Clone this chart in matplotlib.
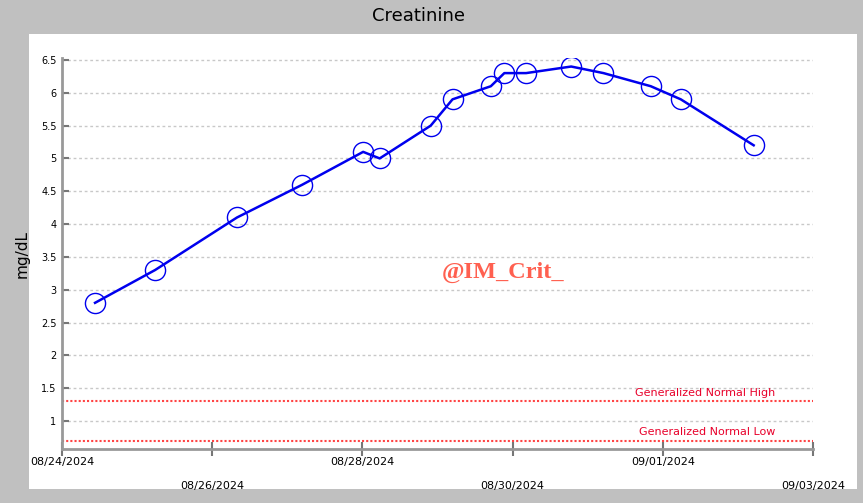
import matplotlib
matplotlib.use("Agg")
import matplotlib.pyplot as plt
import numpy as np

days = [0.44, 1.24, 2.33, 3.2, 4.01, 4.23, 4.91, 5.2, 5.71, 5.89, 6.18, 6.78, 7.21, 7.84, 8.24, 9.21]
values = [2.8, 3.3, 4.1, 4.6, 5.1, 5.0, 5.5, 5.9, 6.1, 6.3, 6.3, 6.4, 6.3, 6.1, 5.9, 5.2]
xtick_labels = ["08/24/2024", "08/26/2024", "08/28/2024", "08/30/2024", "09/01/2024", "09/03/2024"]
yticks = [1, 1.5, 2, 2.5, 3, 3.5, 4, 4.5, 5, 5.5, 6, 6.5]
normal_high = 1.3
normal_low = 0.7

W, H = 863, 503
fig = plt.figure(figsize=(W/100, H/100), dpi=100, facecolor="#c0c0c0")
bg = fig.add_axes([29/W, (H-489)/H, (857-29)/W, (489-34)/H], zorder=0)
bg.set_facecolor("white")
bg.set_xticks([]); bg.set_yticks([])
for s in bg.spines.values():
    s.set_visible(False)

ax = fig.add_axes([62/W, (H-449)/H, (813-62)/W, (449-58)/H], zorder=1)
ax.set_facecolor("none")
ax.set_xlim(0, 10)
ax.set_ylim(0.573, 6.53)

for s in ["top", "right"]:
    ax.spines[s].set_visible(False)
for s in ["left", "bottom"]:
    ax.spines[s].set_color("#999999")
    ax.spines[s].set_linewidth(2)

ax.set_yticks(yticks)
ax.set_yticklabels([f"{v:g}" for v in yticks], fontsize=7, family="DejaVu Sans")
ax.tick_params(axis="y", direction="in", length=5, color="#777777", width=1.5, pad=4)
ax.yaxis.grid(True, color="#c8c8c8", linestyle=(0, (2, 2)), linewidth=1)

xt = [0, 2, 4, 6, 8, 10]
ax.set_xticks(xt)
labs = [l if i % 2 == 0 else "\n\n" + l for i, l in enumerate(xtick_labels)]
ax.set_xticklabels(labs, fontsize=8, family="DejaVu Sans")
ax.tick_params(axis="x", direction="inout", length=10, color="#777777", width=1.5, pad=1)

ax.axhline(normal_high, color="#ff4444", linestyle=(0, (1, 1)), linewidth=1.5)
ax.axhline(normal_low, color="#ff4444", linestyle=(0, (1, 1)), linewidth=1.5)
ax.text(0.856, normal_high + 0.08, "Generalized Normal High", color="#e8002a", fontsize=8,
        ha="center", transform=ax.get_yaxis_transform())
ax.text(0.859, normal_low + 0.08, "Generalized Normal Low", color="#e8002a", fontsize=8,
        ha="center", transform=ax.get_yaxis_transform())

ax.plot(days, values, color="#0000ee", linewidth=1.8, marker="o", markersize=14.5,
        markerfacecolor="none", markeredgecolor="#0000ee", markeredgewidth=1.0, zorder=5)

ax.set_ylabel("mg/dL", fontsize=11, labelpad=8)
fig.text(418/W, 1-16/H, "Creatinine", ha="center", va="center", fontsize=13)
fig.text(503/W, 1-272/H, "@IM_Crit_", ha="center", va="center", fontsize=17.5,
         color="#ff6050", family="Liberation Serif", fontweight="bold")

fig.savefig("out.png", dpi=100, facecolor=fig.get_facecolor())
